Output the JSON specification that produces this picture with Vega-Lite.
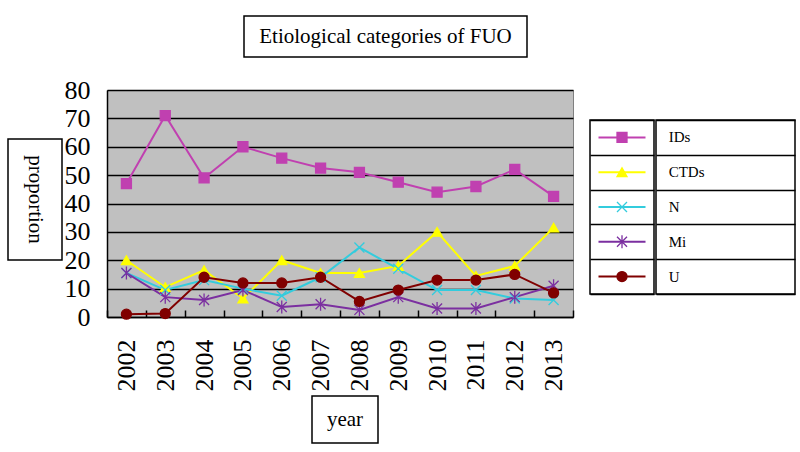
{
  "$schema": "https://vega.github.io/schema/vega-lite/v6.json",
  "padding": {"left": 7, "top": 15, "right": 0, "bottom": 0},
  "background": "white",
  "config": {"view": {"stroke": null}, "font": "Liberation Serif", "concat": {"spacing": 0}},
  "datasets": {
    "fuo": [
      {"year": 2002, "series": "IDs", "value": 47}, {"year": 2003, "series": "IDs", "value": 71}, {"year": 2004, "series": "IDs", "value": 49}, {"year": 2005, "series": "IDs", "value": 60}, {"year": 2006, "series": "IDs", "value": 56}, {"year": 2007, "series": "IDs", "value": 52.5}, {"year": 2008, "series": "IDs", "value": 51}, {"year": 2009, "series": "IDs", "value": 47.5}, {"year": 2010, "series": "IDs", "value": 44}, {"year": 2011, "series": "IDs", "value": 46}, {"year": 2012, "series": "IDs", "value": 52}, {"year": 2013, "series": "IDs", "value": 42.5},
      {"year": 2002, "series": "CTDs", "value": 20}, {"year": 2003, "series": "CTDs", "value": 10.5}, {"year": 2004, "series": "CTDs", "value": 16.5}, {"year": 2005, "series": "CTDs", "value": 6.5}, {"year": 2006, "series": "CTDs", "value": 20}, {"year": 2007, "series": "CTDs", "value": 15.5}, {"year": 2008, "series": "CTDs", "value": 15.5}, {"year": 2009, "series": "CTDs", "value": 18}, {"year": 2010, "series": "CTDs", "value": 30}, {"year": 2011, "series": "CTDs", "value": 14.5}, {"year": 2012, "series": "CTDs", "value": 18}, {"year": 2013, "series": "CTDs", "value": 31.5},
      {"year": 2002, "series": "N", "value": 15.5}, {"year": 2003, "series": "N", "value": 9.5}, {"year": 2004, "series": "N", "value": 13}, {"year": 2005, "series": "N", "value": 10}, {"year": 2006, "series": "N", "value": 7.5}, {"year": 2007, "series": "N", "value": 14}, {"year": 2008, "series": "N", "value": 24.5}, {"year": 2009, "series": "N", "value": 17}, {"year": 2010, "series": "N", "value": 9.5}, {"year": 2011, "series": "N", "value": 9.5}, {"year": 2012, "series": "N", "value": 6.5}, {"year": 2013, "series": "N", "value": 6},
      {"year": 2002, "series": "Mi", "value": 15.5}, {"year": 2003, "series": "Mi", "value": 7}, {"year": 2004, "series": "Mi", "value": 6}, {"year": 2005, "series": "Mi", "value": 9.5}, {"year": 2006, "series": "Mi", "value": 3.5}, {"year": 2007, "series": "Mi", "value": 4.5}, {"year": 2008, "series": "Mi", "value": 2.5}, {"year": 2009, "series": "Mi", "value": 7}, {"year": 2010, "series": "Mi", "value": 3}, {"year": 2011, "series": "Mi", "value": 3}, {"year": 2012, "series": "Mi", "value": 7}, {"year": 2013, "series": "Mi", "value": 11},
      {"year": 2002, "series": "U", "value": 1}, {"year": 2003, "series": "U", "value": 1.2}, {"year": 2004, "series": "U", "value": 14}, {"year": 2005, "series": "U", "value": 12}, {"year": 2006, "series": "U", "value": 12}, {"year": 2007, "series": "U", "value": 14}, {"year": 2008, "series": "U", "value": 5.5}, {"year": 2009, "series": "U", "value": 9.5}, {"year": 2010, "series": "U", "value": 13}, {"year": 2011, "series": "U", "value": 13}, {"year": 2012, "series": "U", "value": 15}, {"year": 2013, "series": "U", "value": 8.5}
    ],
    "series": [{"series": "IDs"}, {"series": "CTDs"}, {"series": "N"}, {"series": "Mi"}, {"series": "U"}]
  },
  "hconcat": [
    {
      "vconcat": [
        {"width": 54, "height": 122, "data": {"values": []}, "mark": "point"},
        {"width": 54, "height": 121, "view": {"stroke": "black", "strokeWidth": 1.5},
         "data": {"values": [{"t": "proportion"}]},
         "mark": {"type": "text", "angle": 90, "fontSize": 21, "font": "Liberation Serif", "color": "black", "baseline": "middle", "align": "center"},
         "encoding": {"text": {"field": "t"}}}
      ]
    },
    {
      "spacing": 14,
      "hconcat": [
        {
          "spacing": 18,
          "vconcat": [
            {
              "hconcat": [
                {"width": 136, "height": 41, "data": {"values": []}, "mark": "point"},
                {"width": 283, "height": 41, "view": {"stroke": "black", "strokeWidth": 1.5},
                 "data": {"values": [{"t": "Etiological categories of FUO"}]},
                 "mark": {"type": "text", "fontSize": 21, "font": "Liberation Serif", "color": "black", "baseline": "middle", "align": "center"},
                 "encoding": {"text": {"field": "t"}}}
              ]
            },
            {
              "spacing": 3,
              "vconcat": [
                {
                  "width": 466, "height": 227,
                  "view": {"fill": "#C0C0C0", "stroke": "#808080", "strokeWidth": 1},
                  "data": {"name": "fuo"},
                  "encoding": {
                    "x": {"field": "year", "type": "ordinal",
                          "scale": {"type": "band", "paddingInner": 0, "paddingOuter": 0},
                          "axis": {"title": null, "labelAngle": 270, "labelFont": "Liberation Serif", "labelFontSize": 26, "labelColor": "black",
                                   "tickBand": "extent", "tickSize": -7, "tickColor": "black", "tickWidth": 1.5,
                                   "domainColor": "black", "domainWidth": 1.5, "labelPadding": 29, "grid": false}},
                    "y": {"field": "value", "type": "quantitative",
                          "scale": {"domain": [0, 80], "nice": false},
                          "axis": {"title": null, "values": [0, 10, 20, 30, 40, 50, 60, 70, 80], "grid": true, "gridColor": "black", "gridWidth": 1.5,
                                   "ticks": false, "labelFont": "Liberation Serif", "labelFontSize": 26, "labelColor": "black", "labelPadding": 17,
                                   "labelOverlap": false, "labelFlush": false, "labelBound": false, "domainColor": "black", "domainWidth": 1.5}}
                  },
                  "layer": [
                    {"mark": {"type": "line", "strokeWidth": 2},
                     "encoding": {"color": {"field": "series", "type": "nominal", "legend": null,
                       "scale": {"domain": ["IDs", "CTDs", "N", "Mi", "U"], "range": ["#C040B0", "#FFFF00", "#33CCDD", "#7B2FA0", "#800000"]}}}},
                    {"mark": {"type": "point", "filled": true, "opacity": 1, "strokeWidth": 1.3},
                     "encoding": {
                       "color": {"field": "series", "type": "nominal", "legend": null,
                         "scale": {"domain": ["IDs", "CTDs", "N", "Mi", "U"], "range": ["#C040B0", "#FFFF00", "#33CCDD", "#7B2FA0", "#800000"]}},
                       "stroke": {"field": "series", "type": "nominal", "legend": null,
                         "scale": {"domain": ["IDs", "CTDs", "N", "Mi", "U"], "range": ["#C040B0", "#FFFF00", "#33CCDD", "#7B2FA0", "#800000"]}},
                       "shape": {"field": "series", "type": "nominal", "legend": null,
                         "scale": {"domain": ["IDs", "CTDs", "N", "Mi", "U"], "range": ["square", "triangle-up", "M-1,-1L1,1M-1,1L1,-1", "M-1,-1L1,1M-1,1L1,-1M0,-1.3L0,1.3", "circle"]}},
                       "size": {"field": "series", "type": "nominal", "legend": null,
                         "scale": {"domain": ["IDs", "CTDs", "N", "Mi", "U"], "range": [100, 100, 90, 130, 80]}}
                     }}
                  ]
                },
                {
                  "hconcat": [
                    {"width": 204, "height": 47, "data": {"values": []}, "mark": "point"},
                    {"width": 66, "height": 47, "view": {"stroke": "black", "strokeWidth": 1.5},
                     "data": {"values": [{"t": "year"}]},
                     "mark": {"type": "text", "fontSize": 21, "font": "Liberation Serif", "color": "black", "baseline": "middle", "align": "center"},
                     "encoding": {"text": {"field": "t"}}}
                  ]
                }
              ]
            }
          ]
        },
        {
          "vconcat": [
            {"width": 203, "height": 103, "data": {"values": []}, "mark": "point"},
            {
              "hconcat": [
                {
                  "width": 64, "height": 174,
                  "view": {"stroke": "black", "strokeWidth": 1.5},
                  "data": {"name": "series"},
                  "encoding": {
                    "y": {"field": "series", "type": "nominal",
                          "scale": {"type": "band", "domain": ["IDs", "CTDs", "N", "Mi", "U"], "paddingInner": 0, "paddingOuter": 0},
                          "axis": {"title": null, "labels": false, "ticks": false, "domain": false, "grid": true, "gridColor": "black", "gridWidth": 1.5, "tickBand": "extent"}}
                  },
                  "layer": [
                    {"mark": {"type": "point", "shape": "M-1,0L1,0", "size": 2209, "filled": false, "opacity": 1, "strokeWidth": 2},
                     "encoding": {"color": {"field": "series", "type": "nominal", "legend": null,
                       "scale": {"domain": ["IDs", "CTDs", "N", "Mi", "U"], "range": ["#C040B0", "#FFFF00", "#33CCDD", "#7B2FA0", "#800000"]}}}},
                    {"mark": {"type": "point", "filled": true, "opacity": 1, "strokeWidth": 1.3},
                     "encoding": {
                       "color": {"field": "series", "type": "nominal", "legend": null,
                         "scale": {"domain": ["IDs", "CTDs", "N", "Mi", "U"], "range": ["#C040B0", "#FFFF00", "#33CCDD", "#7B2FA0", "#800000"]}},
                       "stroke": {"field": "series", "type": "nominal", "legend": null,
                         "scale": {"domain": ["IDs", "CTDs", "N", "Mi", "U"], "range": ["#C040B0", "#FFFF00", "#33CCDD", "#7B2FA0", "#800000"]}},
                       "shape": {"field": "series", "type": "nominal", "legend": null,
                         "scale": {"domain": ["IDs", "CTDs", "N", "Mi", "U"], "range": ["square", "triangle-up", "M-1,-1L1,1M-1,1L1,-1", "M-1,-1L1,1M-1,1L1,-1M0,-1.3L0,1.3", "circle"]}},
                       "size": {"field": "series", "type": "nominal", "legend": null,
                         "scale": {"domain": ["IDs", "CTDs", "N", "Mi", "U"], "range": [90, 90, 80, 110, 70]}}
                     }}
                  ]
                },
                {
                  "width": 139, "height": 174,
                  "view": {"stroke": "black", "strokeWidth": 1.5},
                  "data": {"name": "series"},
                  "mark": {"type": "text", "align": "left", "baseline": "middle", "fontSize": 15, "font": "Liberation Serif", "color": "black"},
                  "encoding": {
                    "y": {"field": "series", "type": "nominal",
                          "scale": {"type": "band", "domain": ["IDs", "CTDs", "N", "Mi", "U"], "paddingInner": 0, "paddingOuter": 0},
                          "axis": {"title": null, "labels": false, "ticks": false, "domain": false, "grid": true, "gridColor": "black", "gridWidth": 1.5, "tickBand": "extent"}},
                    "x": {"datum": 0, "type": "quantitative", "scale": {"domain": [-0.1, 1], "nice": false, "zero": false}, "axis": null},
                    "text": {"field": "series"}
                  }
                }
              ]
            }
          ]
        }
      ]
    }
  ]
}
